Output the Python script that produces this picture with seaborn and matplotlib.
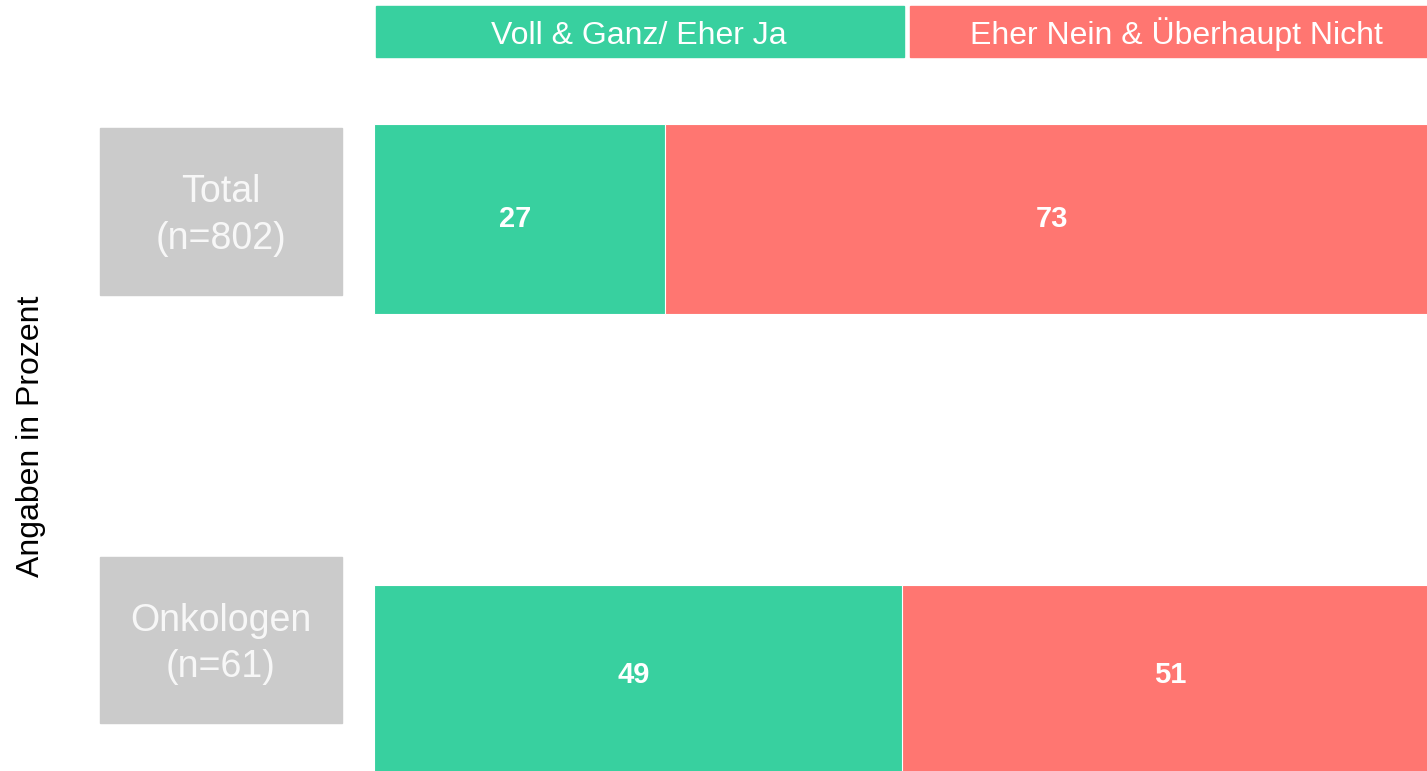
import matplotlib
matplotlib.use("Agg")
import matplotlib.pyplot as plt
import pandas as pd
import seaborn as sns
from matplotlib.patches import Rectangle

# Data
groups = ["Total", "Onkologen"]
group_labels = ["Total\n(n=802)", "Onkologen\n(n=61)"]
yes_values = [27, 49]
no_values = [73, 51]
series_names = ["Voll & Ganz/ Eher Ja", "Eher Nein & Überhaupt Nicht"]

GREEN = "#38D09F"
RED = "#FF7671"
GRAY = "#CBCBCB"

sns.set_theme(style="white")
plt.rcParams["font.family"] = ["Liberation Sans", "DejaVu Sans"]

df = pd.DataFrame({"group": groups, "yes": yes_values, "no": no_values})
df["total"] = df["yes"] + df["no"]

fig = plt.figure(figsize=(14.27, 7.71), dpi=100)
W, H = 1427, 771
STEP = 461  # px between bar centres

# main bar axes (extends a bit past the right edge like the original)
ax = fig.add_axes([374 / W, 0, 1078 / W, 1])
sns.barplot(data=df, x="total", y="group", color=RED, width=190 / STEP,
            saturation=1, edgecolor="white", linewidth=0.8, orient="h", ax=ax)
sns.barplot(data=df, x="yes", y="group", color=GREEN, width=190 / STEP,
            saturation=1, edgecolor="white", linewidth=0.8, orient="h", ax=ax)
ax.set_xlim(0, 100)
ax.set_ylim((H - 219) / STEP, -219 / STEP)
ax.axis("off")

for i, (y, n) in enumerate(zip(yes_values, no_values)):
    yy = i - 0.01 * i
    ax.text(y / 2 - 0.4, yy, str(y), ha="center", va="center", color="white",
            fontsize=21, fontweight="bold")
    ax.text(y + n / 2 - 0.6, yy, str(n), ha="center", va="center", color="white",
            fontsize=21, fontweight="bold")

# header boxes (legend)
headers = [(376, 904, 639), (910, 1452, 1176)]
for (x0, x1, cx), name, col in zip(headers, series_names, [GREEN, RED]):
    fig.patches.append(Rectangle((x0 / W, 1 - 57 / H), (x1 - x0) / W, 51 / H,
                                 transform=fig.transFigure, color=col, zorder=0))
    fig.text(cx / W, 1 - 44 / H, name, ha="center", va="baseline",
             color="white", fontsize=23)

# gray group boxes
boxes = [(128, 295), (557, 723)]
for (top, bot), lab in zip(boxes, group_labels):
    fig.patches.append(Rectangle((100 / W, 1 - bot / H), 242 / W, (bot - top) / H,
                                 transform=fig.transFigure, color=GRAY, zorder=0))
    fig.text(221 / W, 1 - ((top + bot) / 2 + 4) / H, lab, ha="center", va="center",
             color="#F7F7F7", fontsize=27, linespacing=1.38)

fig.text(31 / W, 1 - 436 / H, "Angaben in Prozent", rotation=90,
         ha="center", va="center", color="black", fontsize=23)

fig.savefig("out.png", dpi=100)
